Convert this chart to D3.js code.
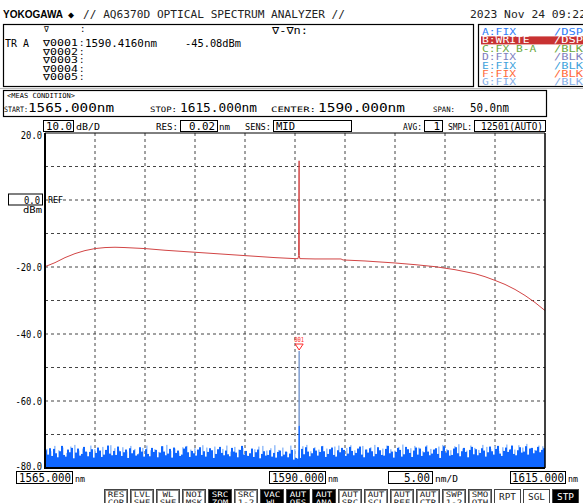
<!DOCTYPE html>
<html><head><meta charset="utf-8">
<script src="https://cdn.jsdelivr.net/npm/d3@7"></script>
<style>body{margin:0;background:#fff}svg{display:block}text{font-family:"DejaVu Sans Mono",monospace}</style>
</head><body><svg id="c" width="583" height="503"></svg>
<script>
// ---------------- data ----------------
const xDomain = [1565, 1615];
const yDomain = [-80, 20];
const yTickValues = [20, -20, -40, -60, -80];
const yTickLabels = ["20.0", "-20.0", "-40.0", "-60.0", "-80.0"];
const refLevel = 0;
const refLabel = "0.0";

// Trace B (WRITE, red)
const redWl  = [1565, 1566, 1567, 1568, 1569, 1570, 1571, 1572, 1573, 1575, 1577, 1580, 1583, 1585, 1588, 1590, 1590.3, 1590.36, 1590.41, 1590.43, 1590.48, 1592, 1594.6, 1594.8, 1597, 1600, 1602, 1604, 1606, 1608, 1609, 1610, 1611, 1612, 1613, 1614, 1615];
const redDbm = [-19.9, -18.7, -17.2, -16.0, -15.1, -14.5, -14.2, -14.1, -14.2, -14.5, -15.0, -15.6, -16.2, -16.6, -17.2, -17.5, -17.5, -16.6, 11.7, -16.6, -17.5, -17.6, -17.6, -17.9, -18.2, -18.8, -19.3, -19.9, -20.8, -22.0, -22.9, -24.0, -25.2, -26.7, -28.5, -30.6, -33.0];

// Trace A (FIX, blue) noise floor, one value per 0.2 nm bin starting at 1565
const noiseDark = [
-74.7,-76.0,-74.1,-76.4,-74.3,-75.6,-76.8,-75.0,-73.4,-76.1,-76.6,-74.5,-75.3,-74.0,-77.1,-75.4,-74.2,-76.3,-75.8,-73.7,-75.1,-76.5,-75.2,-74.4,-76.9,
-75.5,-73.9,-74.8,-76.7,-76.0,-74.6,-73.3,-75.7,-76.2,-74.9,-76.1,-73.6,-75.0,-76.4,-75.3,-74.5,-77.0,-74.1,-75.6,-74.7,-76.3,-75.9,-73.8,-75.1,-76.6,
-74.4,-75.8,-76.5,-74.0,-75.2,-74.6,-76.8,-75.4,-73.5,-75.1,-76.2,-75.7,-74.3,-76.9,-73.9,-75.5,-74.8,-76.4,-76.0,-74.2,-73.6,-75.3,-76.7,-74.9,-75.6,
-76.3,-74.5,-73.8,-76.1,-75.0,-76.6,-75.2,-74.1,-74.7,-77.0,-75.8,-74.4,-73.7,-75.5,-76.2,-74.8,-75.9,-76.5,-74.0,-75.1,-75.4,-76.8,-74.6,-73.4,-76.0,
-74.9,-76.4,-75.6,-74.2,-76.7,-75.3,-74.5,-77.1,-75.8,-75.0,-76.3,-76.1,-74.7,-76.6,-75.5,-76.9,-75.2,-74.8,-76.5,-76.0,-75.1,-76.8,-75.7,-74.6,-77.5,
-77.0,-77.2,-77.0,-74.3,-75.9,-73.8,-75.1,-76.5,-75.6,-74.1,-74.8,-76.3,-75.2,-73.5,-75.0,-76.7,-75.8,-74.4,-73.9,-76.1,-76.6,-74.7,-75.3,-74.0,-74.6,
-76.4,-75.7,-73.7,-74.9,-76.2,-75.5,-74.2,-73.6,-76.0,-76.8,-74.5,-75.4,-74.1,-75.0,-76.5,-75.8,-73.8,-74.7,-76.1,-76.3,-74.3,-73.4,-75.6,-75.1,-76.9,
-75.2,-74.0,-74.6,-76.6,-75.9,-73.7,-74.4,-75.5,-76.7,-74.8,-73.9,-76.0,-74.2,-76.4,-75.3,-73.6,-75.1,-76.2,-75.7,-74.5,-74.1,-75.8,-77.0,-74.9,-73.5,
-75.4,-74.7,-76.3,-76.1,-74.2,-73.8,-75.6,-76.5,-75.0,-74.0,-75.2,-76.8,-74.6,-73.7,-75.9,-74.4,-76.2,-75.5,-74.1,-74.8,-76.6,-75.3,-73.6,-75.0,-76.0,
-74.3,-73.4,-75.7,-76.4,-74.9,-73.9,-75.2,-74.5,-73.3,-75.8,-76.2,-74.7,-73.8,-75.4,-75.1,-73.5,-76.0,-74.2,-74.0,-75.6,-74.8,-73.7,-75.3,-74.6,-74.1];
// lighter (antialiased) envelope, one value per 0.4 nm bin
const noiseLight = [
-74.3,-75.0,-73.4,-74.7,-73.9,-75.5,-73.6,-73.1,-74.8,-74.2,-75.3,-73.3,-74.4,-74.9,-73.7,-75.4,-73.2,-74.1,-74.6,-73.8,-75.1,-73.4,-74.3,-75.6,-74.0,
-73.3,-74.7,-74.4,-75.2,-73.5,-73.1,-74.9,-74.2,-75.4,-73.8,-73.4,-74.5,-74.1,-75.0,-73.2,-73.9,-75.3,-73.6,-74.8,-74.3,-73.3,-75.1,-73.7,-74.5,-74.0,
-76.2,-75.8,-74.4,-73.6,-73.4,-74.8,-74.1,-73.2,-74.6,-73.9,-75.2,-73.3,-74.4,-74.7,-73.5,-73.1,-75.0,-73.8,-74.5,-73.4,-74.2,-74.9,-73.6,-73.3,-75.1,
-74.0,-73.2,-74.7,-74.3,-73.4,-74.5,-73.8,-73.1,-74.9,-74.2,-73.3,-74.4,-74.8,-73.7,-73.0,-74.6,-74.1,-73.4,-73.9,-75.0,-73.2,-74.3,-74.5,-73.6,-73.1,
-74.4,-74.7,-73.5,-72.9,-74.2,-74.8,-73.3,-74.0,-74.6,-73.1,-73.7,-74.4,-73.4,-74.9,-73.8,-73.0,-74.3,-74.5,-73.2,-73.9,-72.8,-74.1,-74.6,-73.3,-73.5];
// signal peak on trace A
const spikeWl  = [1590.40, 1590.416, 1590.43];
const spikeDbm = [-67.5, -45.08, -67.5];
const spikeBaseWl  = [1590.385, 1590.40, 1590.43, 1590.445];
const spikeBaseDbm = [-80, -67.5, -67.5, -80];

const marker = {wl: 1590.416, dbm: -45.08, label: "001"};
const legendRows = [
  ["A:FIX", "/DSP", "#2f7cf6"], ["B:WRITE", "/DSP", "#ffffff"], ["C:FX B-A", "/BLK", "#6aa83c"],
  ["D:FIX", "/BLK", "#7f7fbf"], ["E:FIX", "/BLK", "#3fa3dc"], ["F:FIX", "/BLK", "#ff6a3a"], ["G:FIX", "/BLK", "#86aee6"]];
const buttons = [["RES","COR",0],["LVL","SHF",0],["WL","SHF",0],["NOI","MSK",0],["SRC","ZOM",1],["SRC","1-2",0],["VAC","WL",1],["AUT","OFS",1],["AUT","ANA",1],["AUT","SRC",0],["AUT","SCL",0],["AUT","REF",0],["AUT","CTR",0],["SWP","1-2",0],["SMO","OTH",0]];
const buttons2 = [["RPT",0],["SGL",0],["STP",1]];

// ---------------- drawing ----------------
const svg = d3.select("#c");
svg.append("rect").attr("width",583).attr("height",503).attr("fill","#fff");
const PL = 45, PR = 545, PT = 133, PB = 468;
const x = d3.scaleLinear().domain(xDomain).range([PL, PR]);
const y = d3.scaleLinear().domain(yDomain).range([PB, PT]);

function T(px, py, s, o = {}) {
  const t = svg.append("text").attr("x", px).attr("y", py).text(s)
    .attr("font-size", o.fs || 10).attr("fill", o.fill || "#000");
  if (o.w) t.attr("textLength", o.w).attr("lengthAdjust", "spacingAndGlyphs");
  if (o.anchor) t.attr("text-anchor", o.anchor);
  if (o.bold) t.attr("font-weight", "bold");
  if (o.ff) t.style("font-family", o.ff);
  return t;
}
function B(px, py, w, h, o = {}) {
  return svg.append("rect").attr("x", px).attr("y", py).attr("width", w).attr("height", h)
    .attr("fill", o.fill || "none").attr("stroke", o.stroke || "#000").attr("stroke-width", o.sw || 1);
}

// header
T(3, 18, "YOKOGAWA", {fs: 11, bold: true, ff: "Liberation Sans", w: 60});
T(68, 18, "◆", {fs: 10});
T(83, 18, "// AQ6370D OPTICAL SPECTRUM ANALYZER //", {fs: 11, w: 262, fill: "#222"});
T(470, 18, "2023 Nov 24 09:22", {fs: 11, w: 116, fill: "#222"});

// marker box
B(3.5, 24.5, 470, 62, {sw: 1.2});
T(44, 32, "∇", {fs: 8});
T(80, 32, ":", {fs: 9});
T(272, 34, "∇-∇n:", {fs: 10, w: 36});
T(5, 47, "TR A", {fs: 10, w: 24});
const mk = ["∇0001", "∇0002", "∇0003", "∇0004", "∇0005"];
mk.forEach((m, i) => {
  T(43, 46 + i * 8.6, m, {fs: 9, w: 35});
  T(79, 46 + i * 8.6, ":", {fs: 9});
});
T(85, 47, "1590.4160nm", {fs: 11, w: 72});
T(185, 47, "-45.08dBm", {fs: 11, w: 56});

// legend box
B(478.5, 24.5, 110, 62, {sw: 1.2});
legendRows.forEach((r, i) => {
  const yy = 35 + i * 8.4;
  if (i === 1) svg.append("rect").attr("x", 481).attr("y", yy - 7).attr("width", 102).attr("height", 8).attr("fill", "#c83232");
  T(482, yy, r[0], {fs: 8.5, fill: r[2], w: r[0].length * 6.8});
  T(554, yy, r[1], {fs: 8.5, fill: r[2], w: 29});
});
svg.append("line").attr("x1", 0).attr("x2", 583).attr("y1", 88.5).attr("y2", 88.5).attr("stroke", "#bbb");

// meas condition
B(3.5, 90.5, 543, 26, {sw: 1.2});
T(7, 98, "<MEAS CONDITION>", {fs: 7, w: 68});
T(4, 112, "START:", {fs: 7.5, w: 24});
T(28, 112, "1565.000nm", {fs: 12, w: 86});
T(150, 112, "STOP:", {fs: 7.5, w: 27});
T(180, 112, "1615.000nm", {fs: 12, w: 77});
T(271, 112, "CENTER:", {fs: 7.5, w: 45});
T(318, 112, "1590.000nm", {fs: 12, w: 87});
T(433, 112, "SPAN:", {fs: 7.5, w: 22});
T(470, 112, "50.0nm", {fs: 12, w: 39});

// settings row
B(43.5, 120.5, 30, 11);
T(72, 130, "10.0", {fs: 11, w: 26, anchor: "end"});
T(76, 130, "dB/D", {fs: 8, w: 24});
T(156, 130, "RES:", {fs: 8, w: 22});
B(180.5, 120.5, 37, 11);
T(215, 130, "0.02", {fs: 11, w: 26, anchor: "end"});
T(219, 130, "nm", {fs: 8, w: 11});
T(245, 130, "SENS:", {fs: 8, w: 26});
B(273.5, 120.5, 78, 11);
T(276, 130, "MID", {fs: 11, w: 19});
T(403, 130, "AVG:", {fs: 8, w: 19});
B(424.5, 120.5, 18, 11);
T(440, 130, "1", {fs: 11, anchor: "end"});
T(448, 130, "SMPL:", {fs: 8, w: 24});
B(474.5, 120.5, 71, 11);
T(543, 130, "12501(AUTO)", {fs: 11, w: 62, anchor: "end"});

// grid
const g = svg.append("g");
g.selectAll(".vg").data(x.ticks(10).slice(1, -1)).enter().append("line")
  .attr("x1", d => x(d)).attr("x2", d => x(d)).attr("y1", PT).attr("y2", PB)
  .attr("stroke", "#444").attr("stroke-dasharray", "3,3");
g.selectAll(".hg").data(y.ticks(10).slice(1, -1)).enter().append("line")
  .attr("y1", d => y(d)).attr("y2", d => y(d)).attr("x1", PL).attr("x2", PR)
  .attr("stroke", "#444").attr("stroke-dasharray", "3,3");

// y labels
yTickValues.forEach((v, i) => T(42, y(v) + (v === 20 ? 6 : (v === -80 ? 2 : 4)), yTickLabels[i], {fs: 10.5, w: yTickLabels[i].length * 5.3, anchor: "end"}));
B(8.5, y(refLevel) - 6, 34, 11);
T(40, y(refLevel) + 4, refLabel, {fs: 11, w: 16, anchor: "end"});
T(23, y(refLevel) + 13, "dBm", {fs: 8, w: 19});
T(48, y(refLevel) + 3, "REF", {fs: 8, w: 15});

// traces
svg.append("clipPath").attr("id", "pc").append("rect").attr("x", PL).attr("y", PT).attr("width", PR - PL).attr("height", PB - PT);
const tr = svg.append("g").attr("clip-path", "url(#pc)");
tr.selectAll(".nl").data(noiseLight).enter().append("rect")
  .attr("x", (d, i) => x(xDomain[0] + i * 0.4 + 0.1)).attr("width", 1.6)
  .attr("y", d => y(d)).attr("height", d => y(yDomain[0]) - y(d)).attr("fill", "#9cc2fa");
tr.selectAll(".nd").data(noiseDark).enter().append("rect")
  .attr("x", (d, i) => x(xDomain[0] + i * 0.2)).attr("width", x(1565.2) - x(1565))
  .attr("y", d => y(d)).attr("height", d => y(yDomain[0]) - y(d)).attr("fill", "#0f66ff");
const spike = spikeWl.map((w, i) => [w, spikeDbm[i]]);
tr.append("path").attr("d", d3.line().x(d => x(d[0])).y(d => y(d[1]))(spike))
  .attr("fill", "none").attr("stroke", "#7b9bd0").attr("stroke-width", 1);
const spikeBase = spikeBaseWl.map((w, i) => [w, spikeBaseDbm[i]]);
tr.append("path").attr("d", d3.line().x(d => x(d[0])).y(d => y(d[1]))(spikeBase))
  .attr("fill", "#0f66ff").attr("stroke", "#0f66ff").attr("stroke-width", 1);
const red = redWl.map((w, i) => [w, redDbm[i]]);
tr.append("path").attr("d", d3.line().x(d => x(d[0])).y(d => y(d[1]))(red))
  .attr("fill", "none").attr("stroke", "#d24545").attr("stroke-width", 1);

// marker
const mx = x(marker.wl), my = y(marker.dbm);
T(mx, my - 9, marker.label, {fs: 7, fill: "#ff2a2a", anchor: "middle", w: 10});
svg.append("path").attr("d", `M${mx - 4},${my - 7}L${mx + 4},${my - 7}L${mx},${my - 1}Z`).attr("fill", "none").attr("stroke", "#ff2a2a");

// frame
svg.append("line").attr("x1", PL).attr("x2", PR).attr("y1", PT).attr("y2", PT).attr("stroke", "#000");
svg.append("line").attr("x1", PR).attr("x2", PR).attr("y1", PT).attr("y2", PB).attr("stroke", "#000").attr("stroke-width", 1.5);
svg.append("line").attr("x1", PL).attr("x2", PL).attr("y1", PT).attr("y2", PB + 1).attr("stroke", "#000").attr("stroke-width", 2);
svg.append("line").attr("x1", PL - 1).attr("x2", PR).attr("y1", PB).attr("y2", PB).attr("stroke", "#000").attr("stroke-width", 2);

// bottom wavelength boxes
B(16.5, 471.5, 56, 12);
T(71, 482, "1565.000", {fs: 12, w: 52, anchor: "end"});
T(75, 482, "nm", {fs: 8, w: 10});
B(269.5, 471.5, 56, 12);
T(324, 482, "1590.000", {fs: 12, w: 52, anchor: "end"});
T(328, 482, "nm", {fs: 8, w: 10});
B(388.5, 471.5, 44, 12);
T(430, 482, "5.00", {fs: 12, w: 26, anchor: "end"});
T(435, 482, "nm/D", {fs: 8, w: 23});
B(510.5, 471.5, 55, 12);
T(564, 482, "1615.000", {fs: 12, w: 52, anchor: "end"});
T(568, 482, "nm", {fs: 8, w: 10});

// buttons
buttons.forEach((b, i) => {
  const bx = 104 + i * 26;
  B(bx + 0.5, 489.5, 23, 16, {fill: b[2] ? "#000" : "#fff", stroke: "#444"});
  B(bx + 1.5, 490.5, 21, 14, {stroke: b[2] ? "#000" : "#888"});
  const c = b[2] ? "#fff" : "#222";
  T(bx + 12, 497, b[0], {fs: 7.5, fill: c, anchor: "middle", w: b[0].length * 5.5});
  T(bx + 12, 504.5, b[1], {fs: 7.5, fill: c, anchor: "middle", w: b[1].length * 5.5});
});
buttons2.forEach((b, i) => {
  const bx = 494 + i * 29;
  B(bx + 0.5, 489.5, 26, 16, {fill: b[1] ? "#000" : "#fff", stroke: "#444"});
  T(bx + 13.5, 500, b[0], {fs: 8, fill: b[1] ? "#fff" : "#222", anchor: "middle", w: 17});
});
</script></body></html>
